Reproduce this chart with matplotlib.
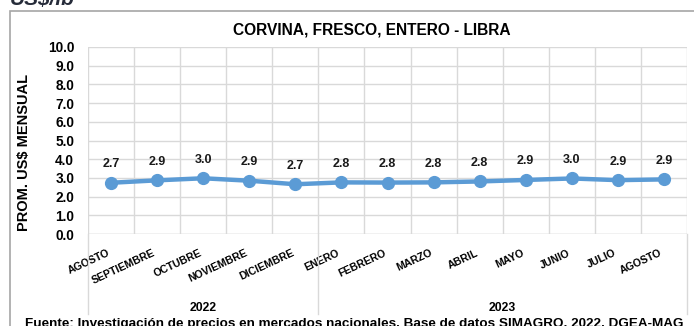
import numpy as np
import matplotlib.pyplot as plt
from matplotlib.patches import Rectangle
from matplotlib.transforms import blended_transform_factory

plt.rcParams['font.family'] = ['Liberation Sans', 'DejaVu Sans']
plt.rcParams['font.weight'] = 'bold'

# Precio promedio mensual, corvina fresca entera (US$/lb)
meses = ['AGOSTO', 'SEPTIEMBRE', 'OCTUBRE', 'NOVIEMBRE', 'DICIEMBRE',
         'ENERO', 'FEBRERO', 'MARZO', 'ABRIL', 'MAYO', 'JUNIO', 'JULIO', 'AGOSTO']
precios = [2.74, 2.87, 2.98, 2.85, 2.66, 2.76, 2.75, 2.76, 2.81, 2.89, 2.97, 2.88, 2.92]
anios = ['2022', '2023']
meses_por_anio = [5, 8]

W, H = 694, 326
fig = plt.figure(figsize=(W / 100, H / 100), dpi=100)

def fx(px):
    return px / W

def fy(py):
    return 1 - py / H

# marco del grafico
fig.patches.append(Rectangle((fx(10), fy(340)), fx(700), fy(11) - fy(340),
                             transform=fig.transFigure, fill=False,
                             edgecolor='#A6A6A6', linewidth=1.2))

fig.text(fx(10), fy(5), 'US$/lb', fontsize=15, style='italic', weight='bold',
         color='#262C3A', va='baseline', ha='left')

ax = fig.add_axes([fx(88), fy(234), fx(687) - fx(88), fy(47) - fy(234)])

x = np.arange(len(meses))
ax.plot(x, precios, color='#5B9BD5', linewidth=3.2, marker='o',
        markersize=8.5, zorder=3)
for xi, v in zip(x, precios):
    ax.annotate(f'{v:.1f}', (xi, v), xytext=(0, 9), textcoords='offset points',
                ha='center', va='bottom', fontsize=9, weight='bold', color='#1a1a1a')

ax.set_xlim(-0.5, len(meses) - 0.5)
ax.set_ylim(0, 10)
ax.set_yticks(np.arange(0, 10.1, 1.0))
ax.set_yticklabels([f'{t:.1f}' for t in np.arange(0, 10.1, 1.0)], fontsize=9.8,
                   weight='bold')
ax.set_xticks(x)
ax.set_xticklabels(meses, rotation=25, ha='right', va='top', fontsize=7.6,
                   weight='bold')
ax.set_xticks(np.arange(-0.5, len(meses)), minor=True)
ax.tick_params(axis='both', length=0)
ax.tick_params(axis='y', pad=10)
ax.tick_params(axis='x', which='major', pad=10)
ax.tick_params(axis='x', which='minor', length=0)
ax.grid(axis='y', color='#D9D9D9', linewidth=1)
ax.grid(axis='x', which='minor', color='#D9D9D9', linewidth=1)
ax.set_axisbelow(True)
for s in ax.spines.values():
    s.set_visible(False)
ax.axhline(0, color='#D9D9D9', linewidth=1, zorder=1)

fig.text(fx(24), fy(152), 'PROM. US$ MENSUAL', rotation=90, ha='center',
         va='center', fontsize=10.5, weight='bold')
fig.text(fx(372), fy(30), 'CORVINA, FRESCO, ENTERO - LIBRA', ha='center',
         va='center', fontsize=11.2, weight='bold')

# separadores y etiquetas de anio bajo el eje
trans = blended_transform_factory(ax.transData, fig.transFigure)
limites = np.concatenate([[0], np.cumsum(meses_por_anio)]) - 0.5
for b in limites:
    ax.plot([b, b], [fy(234), fy(314)], color='#D9D9D9', linewidth=1,
            transform=trans, clip_on=False)
for i, a in enumerate(anios):
    centro = (limites[i] + limites[i + 1]) / 2
    ax.text(centro, fy(308), a, transform=trans, ha='center', va='center',
            fontsize=8.8, weight='bold')

fig.text(fx(354), fy(326.5),
         'Fuente: Investigación de precios en mercados nacionales. Base de datos SIMAGRO, 2022, DGEA-MAG',
         ha='center', va='baseline', fontsize=9.7, weight='bold')

fig.savefig('out.png', dpi=100)
